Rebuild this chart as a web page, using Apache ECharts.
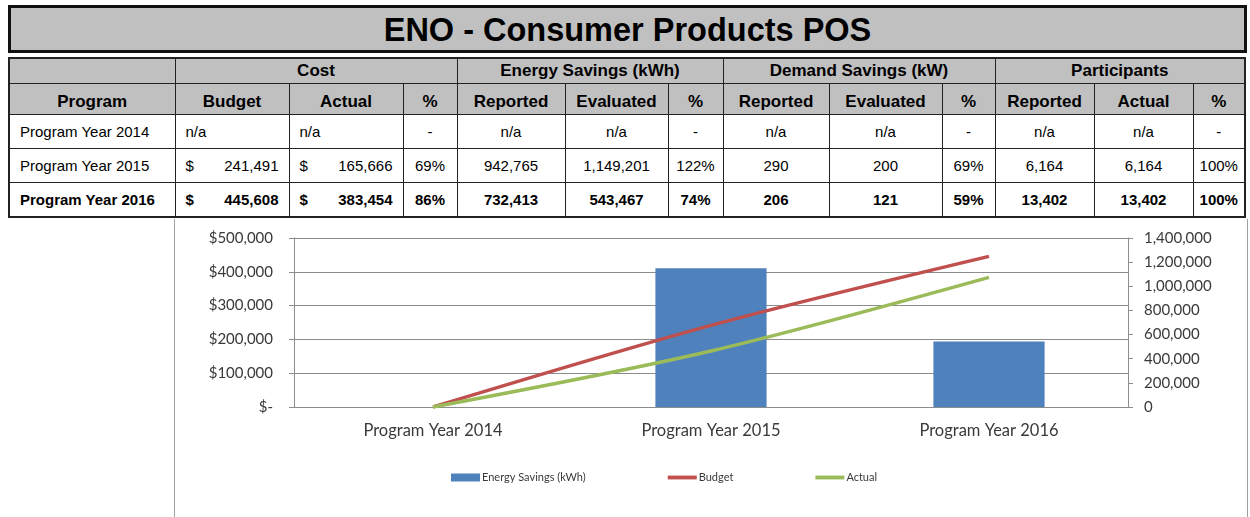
<!DOCTYPE html>
<html>
<head>
<meta charset="utf-8">
<script src="https://cdn.jsdelivr.net/npm/echarts@6/dist/echarts.min.js"></script>
<style>
  body { margin: 0; background: #fff; width: 1250px; height: 517px; overflow: hidden; position: relative; font-family: "Liberation Sans", Arial, sans-serif; }
  .title {
    position: absolute; left: 8px; top: 5px; width: 1233px; height: 42px;
    background: #c0c0c0; border: 3px solid #111;
    font-weight: bold; font-size: 32.5px; text-align: center; line-height: 44px; color: #000;
  }
  table.summary {
    position: absolute; left: 8px; top: 57px; border-collapse: collapse; table-layout: fixed;
    border: 2px solid #222; color: #000;
  }
  table.summary td { border: 1px solid #222; padding: 0; overflow: hidden; white-space: nowrap; }
  tr.h1 td { background: #c0c0c0; height: 24px; font-weight: bold; font-size: 17px; text-align: center; }
  tr.h2 td { background: #c0c0c0; height: 24px; font-weight: bold; font-size: 17px; text-align: center; padding-top: 6px; }
  tr.row td { height: 33px; font-size: 15px; text-align: center; }
  tr.row.bold td { font-weight: bold; }
  tr.row td.prog { text-align: left; padding-left: 10px; }
  tr.row td.money { text-align: left; padding: 0 10px; }
  .money span.d { float: left; }
  .money span.v { float: right; }
  #chart {
    position: absolute; left: 174px; top: 219px; width: 1072px; height: 298px;
    border-left: 1px solid #a0a0a0; border-right: 1px solid #a0a0a0;
  }
</style>
</head>
<body>
<div class="title">ENO - Consumer Products POS</div>
<table class="summary" id="summary"></table>
<div id="chart"></div>
<script>
// table data
const programs = ['Program Year 2014', 'Program Year 2015', 'Program Year 2016']
const costBudget = [null, 241491, 445608]
const costActual = [null, 165666, 383454]
const costPct = ['-', '69%', '86%']
const energyReported = [null, 942765, 732413]
const energyEvaluated = [null, 1149201, 543467]
const energyPct = ['-', '122%', '74%']
const demandReported = [null, 290, 206]
const demandEvaluated = [null, 200, 121]
const demandPct = ['-', '69%', '59%']
const partReported = [null, 6164, 13402]
const partActual = [null, 6164, 13402]
const partPct = ['-', '100%', '100%']

// chart data (n/a plotted as zero, like the source sheet)
const categories = programs
const budgetLine = [0, 241491, 445608]
const actualLine = [0, 165666, 383454]
const energyBars = [0, 1149201, 543467]
const leftTicks = { min: 0, max: 500000, interval: 100000 }
const rightTicks = { min: 0, max: 1400000, interval: 200000 }

const colWidths = [166, 114, 114, 54, 108, 103, 55, 106, 113, 53, 99, 99, 52]

function fmt (v) {
  return v === null ? 'n/a' : v.toLocaleString('en-US')
}

function money (v) {
  if (v === null) return '<td class="money">n/a</td>'
  return '<td class="money"><span class="d">$</span><span class="v">' + fmt(v) + '</span></td>'
}

function buildTable () {
  let html = '<colgroup>'
  colWidths.forEach(w => { html += '<col style="width:' + w + 'px">' })
  html += '</colgroup>'
  html += '<tr class="h1"><td></td><td colspan="3">Cost</td><td colspan="3">Energy Savings (kWh)</td>' +
    '<td colspan="3">Demand Savings (kW)</td><td colspan="3">Participants</td></tr>'
  html += '<tr class="h2"><td>Program</td><td>Budget</td><td>Actual</td><td>%</td>' +
    '<td>Reported</td><td>Evaluated</td><td>%</td><td>Reported</td><td>Evaluated</td><td>%</td>' +
    '<td>Reported</td><td>Actual</td><td>%</td></tr>'
  for (let i = 0; i < programs.length; i++) {
    html += '<tr class="row' + (i === programs.length - 1 ? ' bold' : '') + '">'
    html += '<td class="prog">' + programs[i] + '</td>'
    html += money(costBudget[i]) + money(costActual[i]) + '<td>' + costPct[i] + '</td>'
    html += '<td>' + fmt(energyReported[i]) + '</td><td>' + fmt(energyEvaluated[i]) + '</td><td>' + energyPct[i] + '</td>'
    html += '<td>' + fmt(demandReported[i]) + '</td><td>' + fmt(demandEvaluated[i]) + '</td><td>' + demandPct[i] + '</td>'
    html += '<td>' + fmt(partReported[i]) + '</td><td>' + fmt(partActual[i]) + '</td><td>' + partPct[i] + '</td>'
    html += '</tr>'
  }
  document.getElementById('summary').innerHTML = html
}

buildTable()

const chart = echarts.init(document.getElementById('chart'))
const axisGray = '#8c8c8c'
const labelFont = { color: '#3a3a3a', fontFamily: 'Lato', fontSize: 15 }
const lineIcon = 'path://M0,0 L30,0 L30,4 L0,4 Z'

const option = {
  animation: false,
  grid: { left: 119, right: 119, top: 19, bottom: 110 },
  legend: {
    left: 271,
    top: 248,
    itemGap: 82,
    itemWidth: 29,
    itemHeight: 8,
    textStyle: { fontFamily: 'Lato', fontSize: 11, color: '#3a3a3a', padding: [0, 0, 0, -3] },
    data: [
      { name: 'Energy Savings (kWh)', icon: 'rect' },
      { name: 'Budget', icon: lineIcon },
      { name: 'Actual', icon: lineIcon }
    ]
  },
  xAxis: {
    type: 'category',
    data: categories,
    axisLine: { lineStyle: { color: axisGray } },
    axisTick: { show: false },
    axisLabel: Object.assign({}, labelFont, { margin: 15, fontSize: 16.5 })
  },
  yAxis: [
    {
      type: 'value',
      min: leftTicks.min,
      max: leftTicks.max,
      interval: leftTicks.interval,
      axisLine: { show: true, lineStyle: { color: axisGray } },
      axisTick: { show: true, length: 5, lineStyle: { color: axisGray } },
      splitLine: { lineStyle: { color: axisGray } },
      axisLabel: Object.assign({
        margin: 21,
        formatter: v => v === 0 ? '$-' : '$' + v.toLocaleString('en-US')
      }, labelFont)
    },
    {
      type: 'value',
      min: rightTicks.min,
      max: rightTicks.max,
      interval: rightTicks.interval,
      axisLine: { show: true, lineStyle: { color: axisGray } },
      axisTick: { show: true, length: 5, lineStyle: { color: axisGray } },
      splitLine: { show: false },
      axisLabel: Object.assign({
        margin: 16,
        formatter: v => v.toLocaleString('en-US')
      }, labelFont)
    }
  ],
  series: [
    {
      name: 'Energy Savings (kWh)',
      type: 'bar',
      yAxisIndex: 1,
      barWidth: '40%',
      itemStyle: { color: '#4f81bd' },
      data: energyBars
    },
    {
      name: 'Budget',
      type: 'line',
      yAxisIndex: 0,
      smooth: 0.3,
      symbol: 'none',
      lineStyle: { color: '#c0504d', width: 3.5 },
      itemStyle: { color: '#c0504d' },
      data: budgetLine
    },
    {
      name: 'Actual',
      type: 'line',
      yAxisIndex: 0,
      smooth: 0.3,
      symbol: 'none',
      lineStyle: { color: '#9bbb59', width: 3.5 },
      itemStyle: { color: '#9bbb59' },
      data: actualLine
    }
  ]
}

chart.setOption(option)
</script>
</body>
</html>
